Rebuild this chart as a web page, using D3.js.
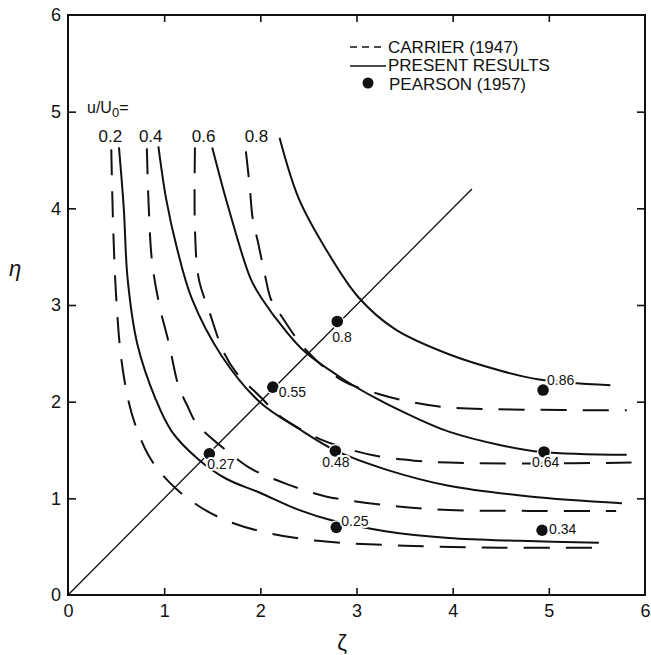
<!DOCTYPE html>
<html>
<head>
<meta charset="utf-8">
<script src="https://cdn.jsdelivr.net/npm/d3@7"></script>
<style>
  body { margin: 0; background: #fff; }
  text { font-family: "Liberation Sans", "DejaVu Sans", sans-serif; fill: #111; }
</style>
</head>
<body>
<div id="chart"></div>
<script>
// Contour data: [zeta, eta] pairs
// Present results (solid)
var present02 = [[0.53,4.63],[0.58,4.0],[0.62,3.27],[0.72,2.6],[0.91,2.03],[1.08,1.69],[1.36,1.40],[1.65,1.2],[1.99,1.06],[2.4,0.88],[2.75,0.77],[3.3,0.66],[3.96,0.59],[4.7,0.56],[5.52,0.54]];
var present04 = [[0.94,4.64],[1.02,4.1],[1.13,3.6],[1.29,3.06],[1.6,2.47],[1.99,2.0],[2.4,1.72],[2.79,1.49],[3.3,1.3],[3.96,1.13],[4.8,1.02],[5.76,0.95]];
var present06 = [[1.50,4.63],[1.67,4.0],[1.9,3.27],[2.02,3.06],[2.25,2.75],[2.47,2.51],[2.85,2.24],[3.23,2.02],[3.6,1.84],[3.96,1.69],[4.5,1.55],[4.93,1.48],[5.81,1.45]];
var present08 = [[2.2,4.73],[2.4,4.1],[2.68,3.58],[3.02,3.08],[3.4,2.75],[3.96,2.49],[4.5,2.32],[4.9,2.23],[5.64,2.17]];

// Carrier (1947) (dashed)
var carrier02 = [[0.45,4.61],[0.47,3.8],[0.5,3.1],[0.56,2.4],[0.665,1.87],[0.84,1.44],[1.05,1.17],[1.3,0.96],[1.6,0.79],[2.0,0.66],[2.6,0.56],[3.5,0.51],[4.5,0.49],[5.59,0.49]];
var carrier04 = [[0.82,4.62],[0.84,4.0],[0.875,3.44],[0.95,3.0],[1.05,2.6],[1.15,2.16],[1.24,1.96],[1.34,1.77],[1.69,1.46],[1.88,1.32],[2.09,1.22],[2.27,1.15],[2.47,1.08],[2.68,1.02],[3.3,0.93],[3.96,0.88],[4.8,0.87],[5.7,0.87]];
var carrier06 = [[1.32,4.63],[1.32,3.79],[1.36,3.27],[1.47,2.93],[1.62,2.51],[1.75,2.3],[2.02,2.03],[2.19,1.86],[2.58,1.63],[2.85,1.53],[3.2,1.44],[3.6,1.39],[3.96,1.37],[4.8,1.36],[5.86,1.37]];
var carrier08 = [[1.85,4.59],[1.89,4.22],[1.92,3.9],[1.98,3.63],[2.05,3.3],[2.11,3.06],[2.19,2.93],[2.47,2.54],[2.85,2.22],[3.23,2.08],[3.6,1.99],[3.96,1.94],[4.6,1.92],[5.81,1.91]];

// Pearson (1957) points
var pearsonZeta = [2.80, 2.13, 1.47, 2.78, 2.79, 4.94, 4.95, 4.93];
var pearsonEta = [2.83, 2.15, 1.46, 1.49, 0.70, 2.12, 1.48, 0.67];
var pearsonLabels = ["0.8", "0.55", "0.27", "0.48", "0.25", "0.86", "0.64", "0.34"];

// u/U0 contour labels
var contourLabels = ["0.2", "0.4", "0.6", "0.8"];
var contourLabelZeta = [0.44, 0.86, 1.41, 1.96];

var tickValues = [0, 1, 2, 3, 4, 5, 6];

// Set up the svg params
var svgWidth = 651;
var svgHeight = 655;

var svg = d3.select("#chart").append("svg")
    .attr("width", svgWidth)
    .attr("height", svgHeight);

svg.append("rect").attr("width", svgWidth).attr("height", svgHeight).attr("fill", "#fff");

var x = d3.scaleLinear().domain([0, 6]).range([68, 645]);
var y = d3.scaleLinear().domain([0, 6]).range([595, 15]);

// frame
svg.append("rect")
    .attr("x", x(0)).attr("y", y(6))
    .attr("width", x(6) - x(0)).attr("height", y(0) - y(6))
    .attr("fill", "none").attr("stroke", "#111").attr("stroke-width", 2);

// axes with inward ticks
var inner = [1, 2, 3, 4, 5];
var bottomAxis = d3.axisBottom(x).tickValues(tickValues).tickSize(-7).tickSizeOuter(0).tickPadding(9).tickFormat(d3.format("d"));
var leftAxis = d3.axisLeft(y).tickValues(tickValues).tickSize(-8).tickSizeOuter(0).tickPadding(7).tickFormat(d3.format("d"));

var gx = svg.append("g").attr("transform", `translate(0, ${y(0)})`).call(bottomAxis);
var gy = svg.append("g").attr("transform", `translate(${x(0)}, 0)`).call(leftAxis);
[gx, gy].forEach(g => {
    g.select(".domain").remove();
    g.selectAll("line").attr("stroke", "#111").attr("stroke-width", 1.6)
        .filter(d => d === 0 || d === 6).remove();
    g.selectAll("text").style("font-size", "18px").attr("fill", "#111");
});

svg.append("g").attr("transform", `translate(0, ${y(6)})`)
    .call(d3.axisTop(x).tickValues(inner).tickSize(-7).tickFormat(""))
    .call(g => g.select(".domain").remove())
    .selectAll("line").attr("stroke", "#111").attr("stroke-width", 1.6);
svg.append("g").attr("transform", `translate(${x(6)}, 0)`)
    .call(d3.axisRight(y).tickValues(inner).tickSize(-8).tickFormat(""))
    .call(g => g.select(".domain").remove())
    .selectAll("line").attr("stroke", "#111").attr("stroke-width", 1.6);

// axis titles
svg.append("text").attr("x", 342).attr("y", 650).attr("text-anchor", "middle")
    .style("font-size", "22px").text("ζ");
svg.append("text").attr("x", 15).attr("y", 276).attr("text-anchor", "middle")
    .style("font-size", "22px").style("font-style", "italic").text("η");

// curves
var line = d3.line()
    .x(d => x(d[0]))
    .y(d => y(d[1]))
    .curve(d3.curveCatmullRom.alpha(0.5));

var curves = [
    {pts: present02, dashed: false}, {pts: present04, dashed: false},
    {pts: present06, dashed: false}, {pts: present08, dashed: false},
    {pts: carrier02, dashed: true}, {pts: carrier04, dashed: true},
    {pts: carrier06, dashed: true}, {pts: carrier08, dashed: true}
];

svg.append("g").selectAll("path")
    .data(curves)
    .enter()
    .append("path")
    .attr("d", d => line(d.pts))
    .attr("fill", "none")
    .attr("stroke", "#111")
    .attr("stroke-width", 2)
    .attr("stroke-dasharray", d => d.dashed ? "26,16" : null);

// diagonal line
svg.append("line")
    .attr("x1", x(0)).attr("y1", y(0))
    .attr("x2", x(4.2)).attr("y2", y(4.2))
    .attr("stroke", "#111").attr("stroke-width", 1.3);

// Pearson points
var pearson = pearsonZeta.map((z, i) => ({z: z, e: pearsonEta[i], label: pearsonLabels[i]}));
// label offsets in px (dx, dy of baseline)
var labelOffsets = [[-5, 21], [6, 10], [-2, 15], [-13, 16], [5, -1], [4, -5], [-12, 15], [7, 4]];

svg.append("g").selectAll("circle")
    .data(pearson)
    .enter()
    .append("circle")
    .attr("cx", d => x(d.z))
    .attr("cy", d => y(d.e))
    .attr("r", 5.8)
    .attr("fill", "#111")
    .attr("stroke", "#fff")
    .attr("stroke-width", 2.5)
    .style("paint-order", "stroke");

svg.append("g").selectAll("text")
    .data(pearson)
    .enter()
    .append("text")
    .attr("x", (d, i) => x(d.z) + labelOffsets[i][0])
    .attr("y", (d, i) => y(d.e) + labelOffsets[i][1])
    .style("font-size", "14px")
    .attr("stroke", "#fff")
    .attr("stroke-width", 4)
    .style("paint-order", "stroke")
    .text(d => d.label);

// u/U0 labels
var uLabel = svg.append("text").attr("x", 87).attr("y", 113).style("font-size", "16px");
uLabel.append("tspan").text("u/U");
uLabel.append("tspan").attr("dy", 4).style("font-size", "13px").text("0");
uLabel.append("tspan").attr("dy", -4).text("=");

svg.append("g").selectAll("text")
    .data(contourLabels)
    .enter()
    .append("text")
    .attr("x", (d, i) => x(contourLabelZeta[i]))
    .attr("y", y(4.69))
    .attr("text-anchor", "middle")
    .style("font-size", "17px")
    .text(d => d);

// legend
var legend = svg.append("g");
legend.append("line").attr("x1", 350).attr("x2", 386).attr("y1", 47).attr("y2", 47)
    .attr("stroke", "#111").attr("stroke-width", 1.6).attr("stroke-dasharray", "7,5");
legend.append("text").attr("x", 388).attr("y", 53).style("font-size", "17px").text("CARRIER  (1947)");
legend.append("line").attr("x1", 350).attr("x2", 386).attr("y1", 66).attr("y2", 66)
    .attr("stroke", "#111").attr("stroke-width", 1.6);
legend.append("text").attr("x", 388).attr("y", 71).style("font-size", "17px").text("PRESENT  RESULTS");
legend.append("circle").attr("cx", 368).attr("cy", 83).attr("r", 5.5).attr("fill", "#111");
legend.append("text").attr("x", 389).attr("y", 90).style("font-size", "17px").text("PEARSON  (1957)");
</script>
</body>
</html>
